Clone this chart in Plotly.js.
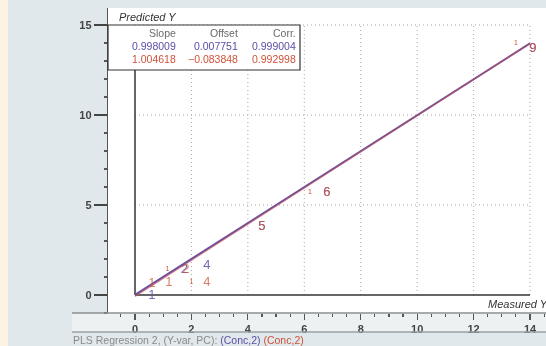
<!DOCTYPE html>
<html>
<head>
<meta charset="utf-8">
<script src="https://cdn.plot.ly/plotly-3.0.1.min.js"></script>
<style>html,body{margin:0;padding:0;background:#e1e8eb;}#chart{width:546px;height:346px;}</style>
</head>
<body>
<div id="chart"></div>
<script>
// ---- data ----
const xTicks = [0, 2, 4, 6, 8, 10, 12, 14];
const yTicks = [0, 5, 10, 15];
const tableHeader = ["Slope", "Offset", "Corr."];
const blueStats = ["0.998009", "0.007751", "0.999004"];
const redStats = ["1.004618", "\u22120.083848", "0.992998"];
const blueSlope = 0.998009, blueOffset = 0.007751;
const redSlope = 1.004618, redOffset = -0.083848;
const lineX = [0, 14];

const blueX = [0.6, 1.75, 2.55, 4.5, 6.8, 14.1];
const blueY = [-0.05, 1.42, 1.6, 3.8, 5.7, 13.7];
const blueLabels = ["1", "2", "4", "5", "6", "9"];

const redX = [0.6, 1.2, 1.8, 2.55, 4.5, 6.8, 14.1];
const redY = [0.6, 0.7, 1.38, 0.7, 3.8, 5.7, 13.7];
const redLabels = ["1", "1", "2", "4", "5", "6", "9"];

const smallX = [1.15, 6.2, 13.5, 2.0];
const smallY = [1.45, 5.7, 14.0, 0.7];
const smallLabels = ["1", "1", "1", "1"];

// ---- layout helpers (pixel -> paper) ----
const L = 108, T = 8, W = 438, H = 305;
const px = v => (v - L) / W;
const py = v => (T + H - v) / H;

const blueCol = '#5a4fa6', redCol = '#cf5238';

const traces = [
  {x: lineX, y: lineX.map(v => blueSlope * v + blueOffset), mode: 'lines',
   line: {color: '#6a4f9e', width: 2}, hoverinfo: 'skip'},
  {x: lineX, y: lineX.map(v => redSlope * v + redOffset), mode: 'lines',
   line: {color: '#c2505a', width: 1.2}, opacity: 0.65, hoverinfo: 'skip'},
  {x: blueX, y: blueY, text: blueLabels, mode: 'text', textposition: 'middle center',
   textfont: {family: 'Liberation Sans, Arial', size: 13, color: blueCol}, opacity: 0.85, cliponaxis: false},
  {x: redX, y: redY, text: redLabels, mode: 'text', textposition: 'middle center',
   textfont: {family: 'Liberation Sans, Arial', size: 13, color: redCol}, opacity: 0.75, cliponaxis: false},
  {x: smallX, y: smallY, text: smallLabels, mode: 'text', textposition: 'middle center',
   textfont: {family: 'Liberation Sans, Arial', size: 7, color: redCol}, cliponaxis: false}
];

const shapes = [];
// cream strip at far left
shapes.push({type: 'rect', xref: 'paper', yref: 'paper', x0: px(0), x1: px(8), y0: py(346), y1: py(0),
  fillcolor: '#fcf3e2', line: {width: 0}, layer: 'below'});
// x tick strip
shapes.push({type: 'rect', xref: 'paper', yref: 'paper', x0: px(72), x1: px(546), y0: py(332), y1: py(313),
  fillcolor: '#edf1f2', line: {width: 0}, layer: 'below'});
shapes.push({type: 'line', xref: 'paper', yref: 'paper', x0: px(72), x1: px(546), y0: py(313), y1: py(313),
  line: {color: '#8a8f92', width: 1.5}, layer: 'above'});
shapes.push({type: 'line', xref: 'paper', yref: 'paper', x0: px(72), x1: px(546), y0: py(332), y1: py(332),
  line: {color: '#9aa0a3', width: 1.5}, layer: 'above'});
// dotted grid
xTicks.filter(v => v > 0).forEach(v => shapes.push({type: 'line', x0: v, x1: v, y0: 0, y1: 15,
  line: {color: '#a8a8a8', width: 1, dash: '1px,3px'}, layer: 'below'}));
yTicks.filter(v => v > 0).forEach(v => shapes.push({type: 'line', x0: 0, x1: 14, y0: v, y1: v,
  line: {color: '#a8a8a8', width: 1, dash: '1px,3px'}, layer: 'below'}));
// black axis lines
shapes.push({type: 'line', x0: 0, x1: 14, y0: 0, y1: 0, line: {color: '#333', width: 1.5}, layer: 'below'});
shapes.push({type: 'line', x0: 0, x1: 0, y0: 0, y1: 15, line: {color: '#333', width: 1.5}, layer: 'below'});
// statistics box
shapes.push({type: 'rect', xref: 'paper', yref: 'paper', x0: px(108), x1: px(300), y0: py(70), y1: py(25),
  fillcolor: '#ffffff', line: {color: '#333', width: 1.2}, layer: 'above'});

const annotations = [];
const colX = [178, 240, 298];
const rows = [[tableHeader, '#6a6a6a', 33], [blueStats, blueCol, 46], [redStats, redCol, 59]];
rows.forEach(([vals, col, yy]) => vals.forEach((t, i) => annotations.push({
  xref: 'paper', yref: 'paper', x: px(colX[i]), y: py(yy), xanchor: 'right', yanchor: 'middle',
  text: t, showarrow: false, font: {family: 'Liberation Sans, Arial', size: 10.5, color: col}
})));
annotations.push({xref: 'paper', yref: 'paper', x: px(117), y: py(17), xanchor: 'left', yanchor: 'middle',
  text: '<i>Predicted Y</i>', showarrow: false, font: {family: 'Liberation Sans, Arial', size: 11, color: '#333'}});
annotations.push({xref: 'paper', yref: 'paper', x: px(550), y: py(304), xanchor: 'right', yanchor: 'middle',
  text: '<i>Measured Y</i>', showarrow: false, font: {family: 'Liberation Sans, Arial', size: 11, color: '#333'}});
annotations.push({xref: 'paper', yref: 'paper', x: px(71), y: py(339.5), xanchor: 'left', yanchor: 'middle',
  text: 'PLS Regression 2, (Y-var, PC): <span style="color:' + blueCol + '">(Conc,2)</span> <span style="color:' + redCol + '">(Conc,2)</span>',
  showarrow: false, font: {family: 'Liberation Sans, Arial', size: 10.5, color: '#8a8a8a'}});

const x0px = 135, x14px = 530;
const pxPerX = (x14px - x0px) / 14;
const pxPerY = 18;

const layout = {
  width: 546, height: 346,
  margin: {l: L, r: 0, t: T, b: 346 - T - H, pad: 0},
  paper_bgcolor: '#e1e8eb', plot_bgcolor: '#ffffff',
  showlegend: false,
  xaxis: {range: [-(x0px - L) / pxPerX, (546 - x0px) / pxPerX], tickvals: xTicks, ticktext: xTicks.map(String),
    ticks: 'outside', ticklen: 6, tickcolor: '#555', tickwidth: 1.2,
    minor: {dtick: 0.5, tick0: 0, ticks: 'outside', ticklen: 3, tickcolor: '#555'},
    showgrid: false, zeroline: false, showline: false,
    tickfont: {family: 'Liberation Sans, Arial', size: 11, color: '#444', weight: 'bold'}},
  yaxis: {range: [-(313 - 295) / pxPerY, (295 - T) / pxPerY], tickvals: yTicks, ticktext: yTicks.map(String),
    ticks: 'outside', ticklen: 13, tickcolor: '#444', tickwidth: 1.2,
    minor: {dtick: 1, tick0: 0, ticks: 'outside', ticklen: 3, tickcolor: '#555'},
    showgrid: false, zeroline: false, showline: true, linecolor: '#555', linewidth: 1.2,
    tickfont: {family: 'Liberation Sans, Arial', size: 11, color: '#444', weight: 'bold'}},
  shapes: shapes,
  annotations: annotations
};

Plotly.newPlot('chart', traces, layout, {staticPlot: true, displayModeBar: false});
</script>
</body>
</html>
